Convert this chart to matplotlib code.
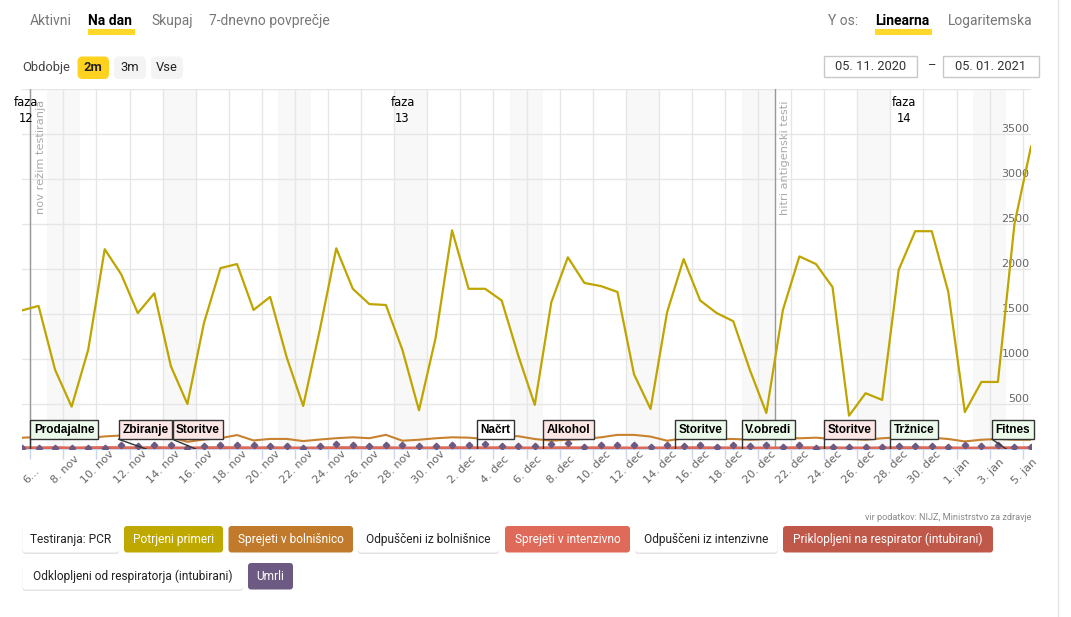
import matplotlib.pyplot as plt
import matplotlib.dates as mdates
from matplotlib.patches import FancyBboxPatch, Rectangle
from matplotlib.transforms import ScaledTranslation
import pandas as pd

W, H = 1071, 617

# PODATKI
# -------
dnevi = pd.date_range('2020-11-05', '2021-01-05', freq='D')

potrjeni = [1540, 1590, 880, 470, 1100, 2220, 1940, 1510, 1730, 920,
            500, 1400, 2010, 2055, 1545, 1690, 1020, 478, 1320, 2230,
            1780, 1610, 1600, 1100, 430, 1230, 2430, 1780, 1780, 1650,
            1040, 490, 1630, 2130, 1845, 1810, 1745, 830, 445, 1520,
            2110, 1650, 1510, 1420, 880, 400, 1545, 2140, 2055, 1800,
            370, 620, 545, 1990, 2420, 2420, 1745, 410, 745, 745,
            2500, 3360]
sprejeti_bol = [125, 135, 130, 125, 120, 140, 150, 155, 150, 130,
                80, 105, 120, 155, 95, 112, 112, 88, 105, 120,
                130, 120, 157, 92, 103, 119, 130, 126, 111, 148,
                142, 111, 92, 103, 111, 130, 157, 157, 138, 92,
                119, 130, 111, 111, 103, 111, 126, 119, 126, 111,
                111, 103, 119, 130, 142, 126, 111, 84, 103, 111,
                103, 103]
sprejeti_int = [14, 12, 15, 10, 13, 16, 14, 12, 15, 11,
                9, 13, 15, 14, 12, 13, 11, 9, 12, 14,
                15, 13, 14, 10, 9, 12, 14, 13, 12, 14,
                11, 9, 13, 14, 12, 13, 12, 10, 9, 12,
                14, 13, 12, 11, 10, 9, 12, 14, 13, 12,
                9, 10, 11, 13, 14, 13, 12, 9, 10, 11,
                13, 14]
respirator = [6, 5, 7, 4, 6, 8, 6, 5, 7, 5,
              4, 6, 7, 6, 5, 6, 5, 4, 5, 6,
              7, 6, 6, 4, 4, 5, 6, 6, 5, 6,
              5, 4, 6, 6, 5, 6, 5, 4, 4, 5,
              6, 6, 5, 5, 4, 4, 5, 6, 6, 5,
              4, 4, 5, 6, 6, 6, 5, 4, 4, 5,
              6, 6]
umrli = [11, 9, 10, 7, 10, 7, 42, 30, 42, 45,
         12, 30, 42, 45, 42, 28, 28, 12, 34, 53,
         42, 34, 45, 42, 34, 34, 45, 45, 53, 34,
         34, 38, 53, 72, 26, 45, 45, 42, 22, 45,
         34, 42, 26, 42, 34, 42, 26, 45, 15, 26,
         26, 22, 26, 34, 34, 34, 26, 42, 34, 45,
         26, 26]

tick_dnevi = pd.date_range('2020-11-06', '2021-01-05', freq='2D')
meseci = {11: 'nov', 12: 'dec', 1: 'jan'}
tick_oznake = ['6...'] + ['%d. %s' % (d.day, meseci[d.month]) for d in tick_dnevi[1:]]

vikendi = pd.date_range('2020-11-07', '2021-01-02', freq='7D')

crte = [('2020-11-06', 'nov režim testiranja'),
        ('2020-12-21', 'hitri antigenski testi')]

faze = [('2020-11-05 18:00', 'faza\n12'),
        ('2020-11-28 12:00', 'faza\n13'),
        ('2020-12-28 20:00', 'faza\n14')]

dogodki = ['Prodajalne', 'Zbiranje', 'Storitve', 'Načrt', 'Alkohol',
           'Storitve', 'V.obredi', 'Storitve', 'Tržnice', 'Fitnes']
dogodki_datum = ['2020-11-06', '2020-11-13', '2020-11-16', '2020-12-03', '2020-12-07',
                 '2020-12-15', '2020-12-19', '2020-12-24', '2020-12-28', '2021-01-04']
dogodki_barva = ['#ecfaec', '#fde6e6', '#fde6e6', '#ffffff', '#fde6e6',
                 '#ecfaec', '#ecfaec', '#fde6e6', '#ecfaec', '#ecfaec']
# zamik zastavice v levo (dni), kjer se prekrivajo
dogodki_zamik = [0, 1.66, 1.4, 0, 0, 0, 0, 0, 0, 0.85]

gumbi_1 = ['Testiranja: PCR', 'Potrjeni primeri', 'Sprejeti v bolnišnico',
           'Odpuščeni iz bolnišnice', 'Sprejeti v intenzivno',
           'Odpuščeni iz intenzivne', 'Priklopljeni na respirator (intubirani)']
gumbi_2 = ['Odklopljeni od respiratorja (intubirani)', 'Umrli']
barve_1 = [None, '#bfa800', '#c17a2c', None, '#df6a5a', None, '#c0584a']
barve_2 = [None, '#6d5a82']

C_RUMENA = '#bfa500'
C_ORANZNA = '#c8812f'
C_INT = '#df6a5a'
C_RESP = '#d35f50'
C_UMRLI = '#6d5a82'

# SLIKA
# -----
fig = plt.figure(figsize=(W / 100, H / 100), dpi=100)
fig.patch.set_facecolor('white')

ui = fig.add_axes([0, 0, 1, 1])
ui.set_xlim(0, W)
ui.set_ylim(H, 0)
ui.axis('off')
ui.set_zorder(-1)

UI_FONT = 'Roboto'

def gumb(x0, x1, y0, y1, fc, shadow=False, r=3):
    if shadow:
        ui.add_patch(FancyBboxPatch((x0, y0 + 1.5), x1 - x0, y1 - y0,
                                    boxstyle='round,pad=0,rounding_size=%g' % r,
                                    fc='#e3e3e3', ec='none'))
    ui.add_patch(FancyBboxPatch((x0, y0), x1 - x0, y1 - y0,
                                boxstyle='round,pad=0,rounding_size=%g' % r,
                                fc=fc, ec='none'))

# zavihki zgoraj
ui.add_patch(Rectangle((88, 28.5), 47, 6.5, fc='#ffd82a', ec='none'))
ui.add_patch(Rectangle((875, 28.5), 57, 6.5, fc='#ffd82a', ec='none'))
for x, t, b in [(30, 'Aktivni', False), (88, 'Na dan', True), (151, 'Skupaj', False),
                (209, '7-dnevno povprečje', False), (828, 'Y os:', False),
                (875, 'Linearna', True), (948, 'Logaritemska', False)]:
    ui.text(x, 21, t, fontsize=10, family=UI_FONT, va='center', ha='left',
            color='black' if b else '#777777', fontweight='bold' if b else 'normal')

ui.text(22, 67, 'Obdobje', fontsize=9.3, family=UI_FONT, va='center', color='#444444')
for x0, x1, t, fc in [(77.5, 109, '2m', '#ffd21f'), (114, 146, '3m', '#f4f4f4'),
                      (151, 183, 'Vse', '#f4f4f4')]:
    gumb(x0, x1, 56.5, 79, fc, r=5)
    ui.text((x0 + x1) / 2, 67.5, t, fontsize=9.3, family=UI_FONT, va='center',
            ha='center', color='#222222', fontweight='bold' if t == '2m' else 'normal')

for x0, x1, t in [(824, 917, '05. 11. 2020'), (943, 1039, '05. 01. 2021')]:
    ui.add_patch(Rectangle((x0, 55.5), x1 - x0, 21.5, fc='white', ec='#c8c8c8', lw=1))
    ui.text((x0 + x1) / 2, 66.5, t, fontsize=9.3, family=UI_FONT, va='center',
            ha='center', color='#333333')
ui.text(932, 66, '–', fontsize=9.3, family=UI_FONT, va='center', ha='center', color='#333333')

ui.plot([1058, 1058], [0, H], color='#e4e4e4', lw=1)

# gumbi legende
pos_1 = [(22.5, 119), (124, 223), (228.5, 353), (358, 499), (505, 630), (635, 777.5), (783, 993)]
pos_2 = [(22.5, 243), (248, 293)]
for oznake, barve, pos, y0 in [(gumbi_1, barve_1, pos_1, 526), (gumbi_2, barve_2, pos_2, 563)]:
    for t, fc, (x0, x1) in zip(oznake, barve, pos):
        gumb(x0, x1, y0, y0 + 26.5, fc or 'white', shadow=fc is None)
        ui.text((x0 + x1) / 2, y0 + 13.5, t, fontsize=8.6, family=UI_FONT, va='center',
                ha='center', color='white' if fc else '#222222')

ui.text(1031, 517.5, 'vir podatkov: NIJZ, Ministrstvo za zdravje', fontsize=6.6,
        family=UI_FONT, va='center', ha='right', color='#8a8a8a')

# GRAF
# ----
ax = fig.add_axes([22 / W, 1 - 449 / H, 1009 / W, 360 / H])
x = dnevi + pd.Timedelta(hours=12)
x0 = mdates.date2num(pd.Timestamp('2020-11-05 12:00'))
ax.set_xlim(x0, x0 + 61)
ax.set_ylim(0, 4000)

for d in vikendi:
    ax.axvspan(d, d + pd.Timedelta(days=2), color='#f8f8f8', zorder=0, lw=0)

ax.set_axisbelow(True)
ax.grid(True, color='#e6e6e6', lw=1)

for d, t in crte:
    ax.axvline(pd.Timestamp(d), color='#999999', lw=1, zorder=2)
    ax.annotate(t, xy=(pd.Timestamp(d), 1), xycoords=('data', 'axes fraction'),
                xytext=(4, -8), textcoords='offset points', rotation=90,
                ha='left', va='top', color='#aaaaaa', fontsize=8.2)

for d, t in faze:
    ax.annotate(t, xy=(pd.Timestamp(d), 1), xycoords=('data', 'axes fraction'),
                xytext=(0, -5), textcoords='offset points', ha='center', va='top',
                fontsize=8.3, color='black', linespacing=1.3)

ax.plot(x, respirator, color=C_RESP, lw=3, zorder=3)
ax.plot(x, sprejeti_int, color=C_INT, lw=1.5, zorder=3)
ax.plot(x, sprejeti_bol, color=C_ORANZNA, lw=1.5, zorder=3)
ax.plot(x, umrli, ls='none', marker='D', ms=3.3, color=C_UMRLI, zorder=4)
ax.plot(x, potrjeni, color=C_RUMENA, lw=1.6, zorder=4)

# zastavice
box_bottom = 108
fs_flag = 8.5
pad = 0.3
pad_pt = pad * fs_flag
for t, d, fc, z in zip(dogodki, dogodki_datum, dogodki_barva, dogodki_zamik):
    xd = mdates.date2num(pd.Timestamp(d))
    xb = xd - z
    ax.plot([xb, xd], [box_bottom, 0], color='#333333', lw=1, zorder=5)
    tr = ax.transData + ScaledTranslation(pad_pt / 72, pad_pt / 72, fig.dpi_scale_trans)
    ax.text(xb, box_bottom, t, transform=tr, ha='left', va='bottom', fontsize=fs_flag,
            family='Liberation Sans', fontweight='bold', color='black', zorder=6,
            bbox=dict(boxstyle='square,pad=%g' % pad, fc=fc, ec='#333333', lw=1))

# os x: zasukane oznake, sredina pod oznako, spodnji rob poravnan
ax.set_xticks(tick_dnevi)
ax.set_xticklabels([])
for d, t in zip(tick_dnevi, tick_oznake):
    ax.annotate(t, xy=(d, 0), xycoords=('data', 'axes fraction'),
                xytext=(1, -26.5), textcoords='offset points', rotation=45,
                ha='center', va='bottom', fontsize=8, color='#666666',
                annotation_clip=False)

ax.yaxis.tick_right()
ax.set_yticks([0, 500, 1000, 1500, 2000, 2500, 3000, 3500, 4000])
ax.set_yticklabels(['', '500', '1000', '1500', '2000', '2500', '3000', '3500', ''],
                   fontsize=8, color='#666666')
ax.tick_params(axis='y', length=0, pad=-1)
for lab in ax.get_yticklabels():
    lab.set_ha('right')
    lab.set_va('bottom')
ax.tick_params(axis='x', length=7, color='#ccd6eb', width=1, pad=3)

for s in ['top', 'left', 'right']:
    ax.spines[s].set_visible(False)
ax.spines['bottom'].set_color('#ccd6eb')

fig.savefig('out.png', dpi=100, facecolor='white')
